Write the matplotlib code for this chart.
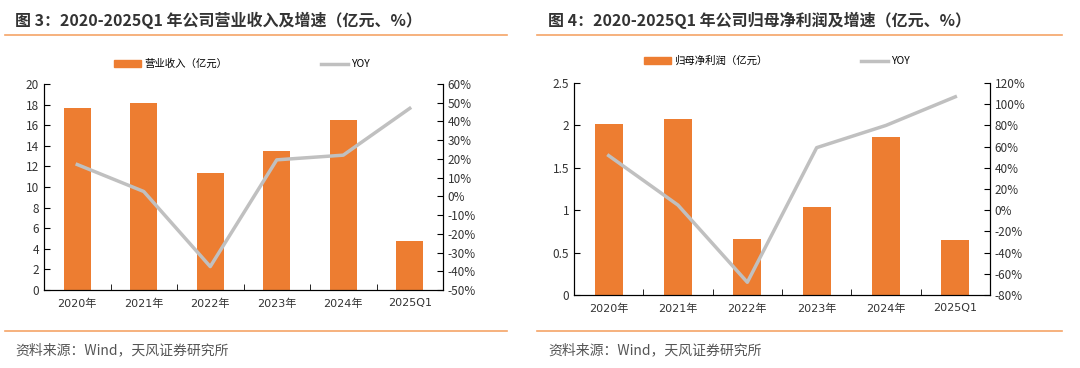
import matplotlib
matplotlib.use("Agg")
import matplotlib.pyplot as plt
from matplotlib.lines import Line2D
from matplotlib.patches import Patch
from matplotlib.ticker import FuncFormatter

plt.rcParams['font.family'] = ['Noto Sans CJK SC', 'DejaVu Sans']

# data
years = ['2020年', '2021年', '2022年', '2023年', '2024年', '2025Q1']
revenue = [17.7, 18.15, 11.35, 13.5, 16.5, 4.75]
revenue_yoy = [17.0, 2.6, -37.5, 19.5, 22.0, 47.0]
profit = [2.02, 2.08, 0.66, 1.04, 1.86, 0.65]
profit_yoy = [51.5, 4.8, -68.0, 59.0, 80.0, 107.0]

ORANGE = '#ED7D31'
GREY = '#C0C0C0'
RULE = '#F5A467'
TXT = '#333333'

W, H = 1080, 368
fig = plt.figure(figsize=(W / 100, H / 100), dpi=100)


def px_axes(x0, x1, y0, y1):
    # pixel box -> figure fraction
    return fig.add_axes([x0 / W, 1 - y1 / H, (x1 - x0) / W, (y1 - y0) / H])


def panel(ax, vals, yoy, ylim, yticks, ylim2, yticks2, label, leg_xy):
    x = range(len(years))
    ax.bar(x, vals, width=0.4, color=ORANGE, zorder=2)
    ax.set_xlim(-0.5, len(years) - 0.5)
    ax.set_ylim(*ylim)
    ax.set_yticks(yticks)
    ax.set_xticks(list(x))
    ax.set_xticklabels(years, fontsize=8, color=TXT, family=['DejaVu Sans', 'Noto Sans CJK SC'])
    ax.set_xticks([i + 0.5 for i in range(len(years) - 1)], minor=True)
    ax.tick_params(axis='x', which='major', length=0, pad=6)
    ax.tick_params(axis='x', which='minor', direction='in', length=4)
    ax.tick_params(axis='y', direction='in', length=4, labelsize=8.5, labelcolor=TXT)
    ax.yaxis.set_major_formatter(FuncFormatter(lambda v, p: ('%g' % v)))
    for s in ['top']:
        ax.spines[s].set_visible(False)

    ax2 = ax.twinx()
    ax2.plot(x, yoy, color=GREY, lw=2.5, zorder=3)
    ax2.set_ylim(*ylim2)
    ax2.set_yticks(yticks2)
    ax2.yaxis.set_major_formatter(FuncFormatter(lambda v, p: '%d%%' % v))
    ax2.tick_params(axis='y', direction='in', length=4, labelsize=8.5, labelcolor=TXT)
    ax2.spines['top'].set_visible(False)

    handles = [Patch(color=ORANGE), Line2D([], [], color=GREY, lw=2.5)]
    fig.legend(handles, [label, 'YOY'], loc='center',
               bbox_to_anchor=(leg_xy[0] / W, 1 - leg_xy[1] / H),
               ncol=2, frameon=False, fontsize=7.5, handlelength=2.6,
               handleheight=0.6, handletextpad=0.3, columnspacing=9)


axL = px_axes(44, 443, 84, 290)
panel(axL, revenue, revenue_yoy, (0, 20), range(0, 21, 2),
      (-50, 60), range(-50, 61, 10), '营业收入（亿元）', (242, 64))

axR = px_axes(574, 990, 83, 295)
panel(axR, profit, profit_yoy, (0, 2.5), [0, 0.5, 1, 1.5, 2, 2.5],
      (-80, 120), range(-80, 121, 20), '归母净利润（亿元）', (777, 61))

# titles, rules and source lines
fig.text(15 / W, 1 - 20 / H, '图 3：2020-2025Q1 年公司营业收入及增速（亿元、%）',
         fontsize=11.5, fontweight='bold', color=TXT, va='center')
fig.text(548 / W, 1 - 20 / H, '图 4：2020-2025Q1 年公司归母净利润及增速（亿元、%）',
         fontsize=11.5, fontweight='bold', color=TXT, va='center')
for xa, xb in [(5, 507), (537, 1062)]:
    for yy in [35, 331]:
        fig.add_artist(Line2D([xa / W, xb / W], [1 - yy / H, 1 - yy / H],
                              color=RULE, lw=1.2))
fig.text(15 / W, 1 - 350 / H, '资料来源：Wind，天风证券研究所', fontsize=10,
         color='#555555', va='center')
fig.text(548 / W, 1 - 350 / H, '资料来源：Wind，天风证券研究所', fontsize=10,
         color='#555555', va='center')

fig.savefig('out.png', dpi=100)
